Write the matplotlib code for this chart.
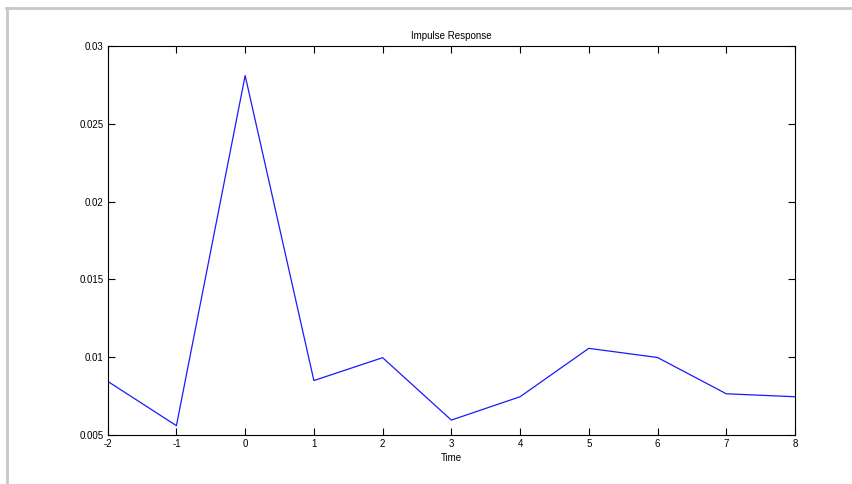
import matplotlib
matplotlib.use("Agg")
import matplotlib.pyplot as plt
from matplotlib.lines import Line2D

plt.rcParams['font.family'] = ['Liberation Sans', 'DejaVu Sans']
plt.rcParams['axes.unicode_minus'] = False

# impulse response samples
time = [-2, -1, 0, 1, 2, 3, 4, 5, 6, 7, 8]
response = [0.00845, 0.0056, 0.0281, 0.0085, 0.00997, 0.00596,
            0.00746, 0.01057, 0.00998, 0.00765, 0.00746]
yticks = [0.005, 0.01, 0.015, 0.02, 0.025, 0.03]
yticklabels = ['0.005', '0.01', '0.015', '0.02', '0.025', '0.03']

fig = plt.figure(figsize=(8.52, 4.84), dpi=100)
ax = fig.add_axes([0.1264, 0.1012, 0.8067, 0.8038])

ax.plot(time, response, color='#1a1aff', linewidth=0.9)

ax.set_xlim(-2, 8)
ax.set_ylim(0.005, 0.03)
ax.set_xticks(range(-2, 9))
ax.set_yticks(yticks)
ax.set_yticklabels(yticklabels)
ax.tick_params(direction='in', length=5, width=0.8, labelsize=7,
               top=True, right=True, pad=3)
for s in ax.spines.values():
    s.set_linewidth(0.8)

ax.set_title('Impulse Response', fontsize=7, pad=5)
ax.set_xlabel('Time', fontsize=7, labelpad=3)

# window frame lines
fig.add_artist(Line2D([6 / 852, 1], [1 - 8 / 484, 1 - 8 / 484],
                      transform=fig.transFigure, color='#c8c8c8', linewidth=2))
fig.add_artist(Line2D([7 / 852, 7 / 852], [1 - 8 / 484, 0],
                      transform=fig.transFigure, color='#c8c8c8', linewidth=2))

fig.savefig('out.png', dpi=100)
